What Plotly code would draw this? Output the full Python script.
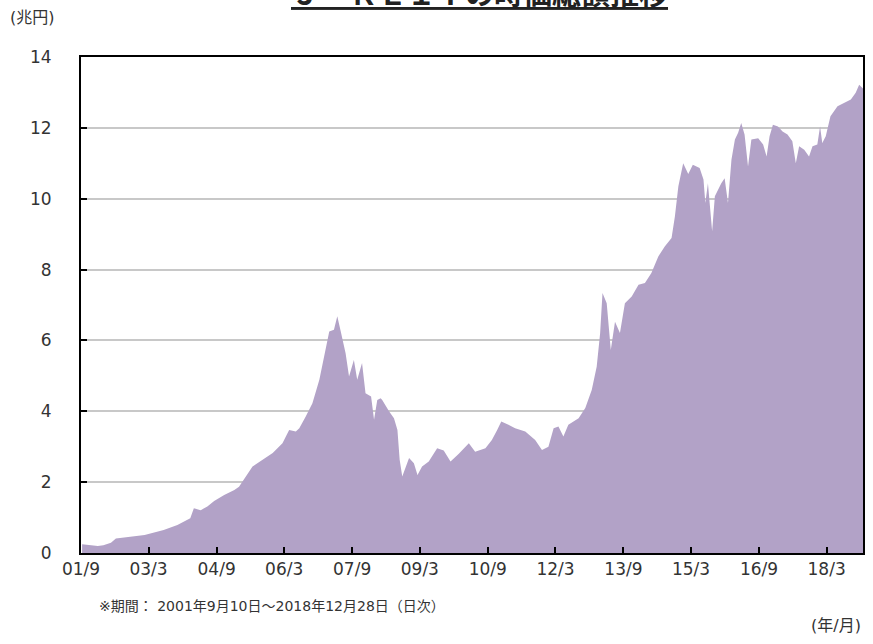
import plotly.graph_objects as go

# J-REIT market cap (trillion yen)
dates = [
    '2001-09-10', '2001-11-01', '2002-01-15', '2002-03-01', '2002-05-01', '2002-06-10',
    '2002-10-01', '2003-01-28', '2003-07-01', '2003-10-20', '2004-02-01', '2004-03-01',
    '2004-04-25', '2004-06-18', '2004-08-12', '2004-11-01', '2005-01-22', '2005-03-01',
    '2005-06-18', '2005-09-10', '2005-11-28', '2006-02-15', '2006-04-10', '2006-06-03',
    '2006-07-01', '2006-08-22', '2006-10-15', '2006-12-10', '2007-02-01', '2007-02-28',
    '2007-04-07', '2007-05-04', '2007-06-01', '2007-07-10', '2007-08-07', '2007-09-15',
    '2007-10-12', '2007-11-20', '2007-12-18', '2008-02-01', '2008-02-25', '2008-03-22',
    '2008-04-18', '2008-05-01', '2008-06-25', '2008-08-04', '2008-09-01', '2008-09-19',
    '2008-10-10', '2008-12-04', '2009-01-12', '2009-02-10', '2009-03-19', '2009-05-12',
    '2009-07-19', '2009-09-10', '2009-11-04', '2010-01-10', '2010-04-01', '2010-05-22',
    '2010-08-13', '2010-10-04', '2010-11-16', '2010-12-19', '2011-02-15', '2011-04-10',
    '2011-07-01', '2011-09-19', '2011-11-13', '2012-01-04', '2012-02-15', '2012-03-25',
    '2012-05-04', '2012-06-13', '2012-09-04', '2012-10-28', '2012-12-19', '2013-01-28',
    '2013-02-25', '2013-03-16', '2013-04-19', '2013-05-22', '2013-06-25', '2013-08-04',
    '2013-09-13', '2013-11-07', '2014-01-01', '2014-02-22', '2014-04-15', '2014-06-10',
    '2014-08-01', '2014-09-25', '2014-10-22', '2014-11-19', '2014-12-28', '2015-02-07',
    '2015-03-16', '2015-05-10', '2015-06-10', '2015-06-25', '2015-07-16', '2015-08-19',
    '2015-09-10', '2015-11-01', '2015-11-28', '2015-12-25', '2016-01-22', '2016-02-19',
    '2016-03-16', '2016-04-10', '2016-05-07', '2016-06-04', '2016-07-01', '2016-08-25',
    '2016-10-04', '2016-11-01', '2016-11-25', '2016-12-22', '2017-02-01', '2017-03-10',
    '2017-04-19', '2017-05-28', '2017-06-25', '2017-07-22', '2017-09-01', '2017-10-10',
    '2017-11-07', '2017-12-16', '2018-01-07', '2018-01-25', '2018-02-22', '2018-04-01',
    '2018-05-28', '2018-07-19', '2018-09-13', '2018-10-22', '2018-11-19', '2018-12-28',
]
values = [
    0.25, 0.23, 0.20, 0.22, 0.29, 0.41,
    0.45, 0.51, 0.65, 0.79, 0.98, 1.26,
    1.21, 1.31, 1.47, 1.64, 1.78, 1.87,
    2.44, 2.63, 2.82, 3.10, 3.47, 3.43,
    3.52, 3.85, 4.23, 4.89, 5.83, 6.25,
    6.30, 6.68, 6.25, 5.64, 4.98, 5.45,
    4.89, 5.36, 4.51, 4.42, 3.76, 4.32,
    4.37, 4.32, 4.00, 3.80, 3.47, 2.63,
    2.16, 2.68, 2.53, 2.20, 2.44, 2.58,
    2.96, 2.89, 2.58, 2.80, 3.10, 2.86,
    2.96, 3.19, 3.47, 3.71, 3.62, 3.52,
    3.43, 3.19, 2.91, 3.00, 3.52, 3.57,
    3.29, 3.62, 3.80, 4.09, 4.60, 5.26,
    6.21, 7.34, 7.05, 5.73, 6.53, 6.21,
    7.05, 7.24, 7.57, 7.62, 7.90, 8.37,
    8.65, 8.89, 9.50, 10.35, 11.00, 10.70,
    10.96, 10.87, 10.54, 9.88, 10.44, 9.08,
    10.07, 10.44, 10.58, 9.88, 11.10, 11.67,
    11.86, 12.14, 11.81, 10.91, 11.67, 11.71,
    11.53, 11.19, 11.76, 12.09, 12.04, 11.90,
    11.81, 11.62, 11.00, 11.48, 11.38, 11.19,
    11.48, 11.53, 12.04, 11.57, 11.76, 12.33,
    12.61, 12.70, 12.80, 12.99, 13.22, 13.08,
]

tick_dates = ['2001-09-01', '2003-03-01', '2004-09-01', '2006-03-01', '2007-09-01', '2009-03-01',
              '2010-09-01', '2012-03-01', '2013-09-01', '2015-03-01', '2016-09-01', '2018-03-01']
tick_labels = ['01/9', '03/3', '04/9', '06/3', '07/9', '09/3',
               '10/9', '12/3', '13/9', '15/3', '16/9', '18/3']

FONT = 'DejaVu Sans, Noto Sans CJK JP, sans-serif'

fig = go.Figure()
fig.add_trace(go.Scatter(
    x=dates, y=values,
    mode='lines', line=dict(width=0, color='#b2a2c7'),
    fill='tozeroy', fillcolor='#b2a2c7',
    showlegend=False,
))

fig.update_xaxes(
    type='date',
    range=['2001-09-01', '2018-12-20'],
    tickvals=tick_dates, ticktext=tick_labels,
    ticks='inside', ticklen=6, tickwidth=2, tickcolor='black',
    showline=True, linecolor='black', linewidth=2, mirror=True,
    showgrid=False, tickfont=dict(size=17, color='#333333'),
)
fig.update_yaxes(
    range=[0, 14], dtick=2,
    ticks='inside', ticklen=6, tickwidth=2, tickcolor='black',
    showline=True, linecolor='black', linewidth=2, mirror=True,
    showgrid=True, gridcolor='#c8c8c8', gridwidth=1.5, zeroline=False,
    tickfont=dict(size=17, color='#333333'), ticklabelstandoff=24,
)

fig.update_layout(
    width=873, height=644,
    margin=dict(l=81, r=8, t=57, b=91),
    plot_bgcolor='white', paper_bgcolor='white',
    font=dict(family=FONT, color='#333333'),
    annotations=[
        dict(text='<b><u>Ｊ－ＲＥＩＴの時価総額推移</u></b>', xref='paper', yref='paper',
             x=0.509, y=1.131, xanchor='center', yanchor='middle', showarrow=False,
             font=dict(size=29, color='#222222', family='Noto Sans CJK JP')),
        dict(text='(兆円)', xref='paper', yref='paper', x=-0.093, y=1.079,
             xanchor='left', yanchor='middle', showarrow=False, font=dict(size=16)),
        dict(text='※期間： 2001年9月10日～2018年12月28日（日次）', xref='paper', yref='paper',
             x=0.02, y=-0.107, xanchor='left', yanchor='middle', showarrow=False,
             font=dict(size=14)),
        dict(text='(年/月)', xref='paper', yref='paper', x=1.0, y=-0.147,
             xanchor='right', yanchor='middle', showarrow=False, font=dict(size=16)),
    ],
)

# the page's default body margin would shift the chart by 8px
fig.write_html('out.html', config={'displayModeBar': False},
               post_script="document.body.style.margin='0px';")
